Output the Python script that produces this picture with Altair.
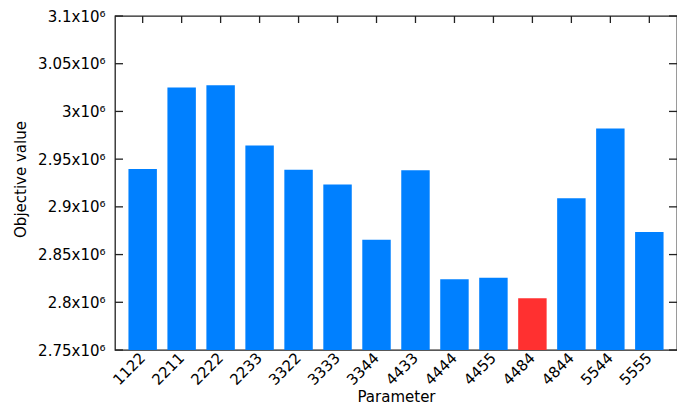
import altair as alt
import pandas as pd

params = ["1122", "2211", "2222", "2233", "3322", "3333", "3344",
          "4433", "4444", "4455", "4484", "4844", "5544", "5555"]
values = [2.9396e6, 3.0252e6, 3.0274e6, 2.9642e6, 2.9388e6, 2.9233e6, 2.8655e6,
          2.9384e6, 2.8242e6, 2.8256e6, 2.8043e6, 2.9091e6, 2.9821e6, 2.8736e6]
y_ticks = [2.75e6, 2.8e6, 2.85e6, 2.9e6, 2.95e6, 3.0e6, 3.05e6, 3.1e6]
best = "4484"

W, H = 562, 334
FONT = "DejaVu Sans"
BLUE = "#0080ff"
RED = "#ff3030"
LINE = "#222222"

df = pd.DataFrame({"param": params, "value": values})
ticks_df = pd.DataFrame({"value": y_ticks})

xscale = alt.Scale(domain=params, paddingInner=0.27, paddingOuter=0.345)
yscale = alt.Scale(domain=[y_ticks[0], y_ticks[-1]], nice=False, zero=False)

x_axis = alt.Axis(title="Parameter", labelAngle=315, labelAlign="right",
                  labelBaseline="middle", labelPadding=5, ticks=False,
                  domain=False, grid=False, labelFont=FONT, labelFontSize=15,
                  labelColor="black", titleFont=FONT, titleFontSize=15,
                  titleFontWeight="normal", titleColor="black",
                  titleBaseline="alphabetic", titleY=51)
y_axis = alt.Axis(title="Objective value", values=y_ticks,
                  labelExpr="format(datum.value/1e6, '.3~g') + 'x10⁶'",
                  ticks=False, domain=False, grid=False, labelPadding=10,
                  labelFont=FONT, labelFontSize=15, labelColor="black",
                  titleFont=FONT, titleFontSize=15, titleFontWeight="normal",
                  titleColor="black", titleX=-87, titleY=163)

bars = alt.Chart(df).mark_bar(clip=True).encode(
    x=alt.X("param:N", scale=xscale, sort=params, axis=x_axis),
    y=alt.Y("value:Q", scale=yscale, axis=y_axis),
    color=alt.condition(alt.datum.param == best, alt.value(RED), alt.value(BLUE)),
)

left_ticks = alt.Chart(ticks_df).mark_rule(color=LINE, strokeWidth=1.3).encode(
    y=alt.Y("value:Q", scale=yscale, axis=y_axis), x=alt.value(0), x2=alt.value(8))
right_ticks = alt.Chart(ticks_df).mark_rule(color=LINE, strokeWidth=1.3).encode(
    y=alt.Y("value:Q", scale=yscale, axis=y_axis), x=alt.value(W - 8), x2=alt.value(W))
top_ticks = alt.Chart(df).mark_rule(color=LINE, strokeWidth=1.3).encode(
    x=alt.X("param:N", scale=xscale, sort=params, bandPosition=0.5, axis=x_axis),
    y=alt.value(0), y2=alt.value(7))

chart = alt.layer(bars, left_ticks, right_ticks, top_ticks).properties(
    width=W, height=H,
    background="white",
    autosize=alt.AutoSizeParams(type="none"),
    padding={"left": 107, "top": 8, "right": 0, "bottom": 56},
).configure_view(stroke=LINE, strokeWidth=1.3)

chart.save("out.html", embed_options={"renderer": "svg", "actions": False})
